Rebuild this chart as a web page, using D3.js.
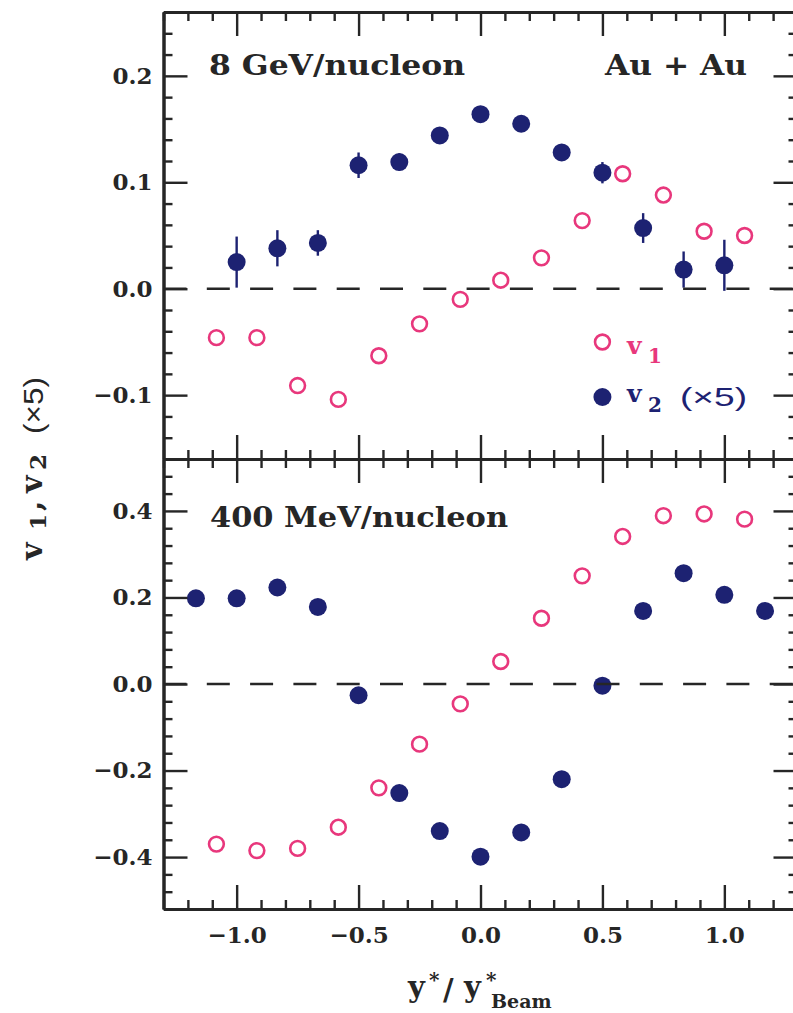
<!DOCTYPE html>
<html>
<head>
<meta charset="utf-8">
<script src="https://cdn.jsdelivr.net/npm/d3@7"></script>
<style>
  html, body { margin: 0; padding: 0; background: #fff; }
  svg { display: block; }
</style>
</head>
<body>
<svg id="chart" width="793" height="1013"></svg>
<script>
// Rapidity bins, y*/y*_beam
const v1Rapidity     = [-1.083, -0.917, -0.75, -0.583, -0.417, -0.25, -0.083, 0.083, 0.25, 0.417, 0.583, 0.75, 0.917, 1.083];
const v2RapidityHigh = [-1.0, -0.833, -0.667, -0.5, -0.333, -0.167, 0.0, 0.167, 0.333, 0.5, 0.667, 0.833, 1.0];
const v2RapidityLow  = [-1.167, -1.0, -0.833, -0.667, -0.5, -0.333, -0.167, 0.0, 0.167, 0.333, 0.5, 0.667, 0.833, 1.0, 1.167];

// 8 GeV/nucleon Au + Au
const v1High    = [-0.046, -0.046, -0.091, -0.104, -0.063, -0.033, -0.010, 0.008, 0.029, 0.064, 0.108, 0.088, 0.054, 0.050];
const v2High    = [0.025, 0.038, 0.043, 0.116, 0.119, 0.144, 0.164, 0.155, 0.128, 0.109, 0.057, 0.018, 0.022];
const v2HighErr = [0.024, 0.017, 0.012, 0.012, 0.008, 0.006, 0.006, 0.006, 0.008, 0.010, 0.014, 0.017, 0.024];

// 400 MeV/nucleon Au + Au
const v1Low = [-0.370, -0.385, -0.380, -0.331, -0.240, -0.139, -0.046, 0.052, 0.152, 0.250, 0.341, 0.389, 0.393, 0.381];
const v2Low = [0.198, 0.198, 0.223, 0.178, -0.026, -0.252, -0.340, -0.399, -0.343, -0.220, -0.004, 0.169, 0.256, 0.206, 0.169];

// Tick values
const xTickValues   = [-1.0, -0.5, 0.0, 0.5, 1.0];
const yTickValuesHi = [-0.1, 0.0, 0.1, 0.2];
const yTickValuesLo = [-0.4, -0.2, 0.0, 0.2, 0.4];

const INK = "#262626";
const PINK = "#e8377c";
const NAVY = "#1d2272";
const SERIF = "'DejaVu Serif', serif";
const SANS = "'Liberation Sans', Arial, sans-serif";

const svg = d3.select("#chart");
svg.append("rect").attr("width", 793).attr("height", 1013).attr("fill", "#fff");

const L = 163.5, R = 797.5;
const x = d3.scaleLinear().domain([-1.3, 1.3]).range([L, R]);
const yHi = d3.scaleLinear().domain([-0.16, 0.26]).range([459, 12]);
const yLo = d3.scaleLinear().domain([-0.52, 0.52]).range([909, 459]);

const xMinor = d3.range(-13, 14).map(i => i / 10).filter(v => !xTickValues.some(m => Math.abs(m - v) < 1e-9));
const fmt = d3.format(".1f");

function styleAxis(g, labelled) {
  g.select(".domain").attr("stroke", INK).attr("stroke-width", 3);
  g.selectAll(".tick line").attr("stroke", INK).attr("stroke-width", 2.4);
  if (labelled) {
    g.selectAll(".tick text")
      .attr("fill", INK)
      .style("font-family", SERIF)
      .style("font-weight", "bold")
      .style("font-size", "23px");
  } else {
    g.selectAll(".tick text").remove();
  }
}

function drawFrame(y, yMajor, minorStep, showXLabels) {
  const [d0, d1] = y.domain();
  const n = Math.round((d1 - d0) / minorStep);
  const yMinor = d3.range(0, n + 1).map(i => +(d0 + i * minorStep).toFixed(4))
    .filter(v => !yMajor.some(m => Math.abs(m - v) < 1e-9));
  const top = y.range()[1], bottom = y.range()[0];
  const g = svg.append("g");

  // left axis
  g.append("g").attr("transform", `translate(${L},0)`)
    .call(d3.axisLeft(y).tickValues(yMinor).tickSize(-9).tickSizeOuter(0).tickFormat(""))
    .call(s => styleAxis(s, false));
  g.append("g").attr("transform", `translate(${L},0)`)
    .call(d3.axisLeft(y).tickValues(yMajor).tickSize(-24).tickSizeOuter(0).tickPadding(11).tickFormat(fmt))
    .call(s => styleAxis(s, true));

  // right axis
  g.append("g").attr("transform", `translate(${R},0)`)
    .call(d3.axisRight(y).tickValues(yMinor).tickSize(-9).tickSizeOuter(0).tickFormat(""))
    .call(s => styleAxis(s, false));
  g.append("g").attr("transform", `translate(${R},0)`)
    .call(d3.axisRight(y).tickValues(yMajor).tickSize(-24).tickSizeOuter(0).tickFormat(""))
    .call(s => styleAxis(s, false));

  // top axis
  g.append("g").attr("transform", `translate(0,${top})`)
    .call(d3.axisTop(x).tickValues(xMinor).tickSize(-9).tickSizeOuter(0).tickFormat(""))
    .call(s => styleAxis(s, false));
  g.append("g").attr("transform", `translate(0,${top})`)
    .call(d3.axisTop(x).tickValues(xTickValues).tickSize(-24).tickSizeOuter(0).tickFormat(""))
    .call(s => styleAxis(s, false));

  // bottom axis
  g.append("g").attr("transform", `translate(0,${bottom})`)
    .call(d3.axisBottom(x).tickValues(xMinor).tickSize(-9).tickSizeOuter(0).tickFormat(""))
    .call(s => styleAxis(s, false));
  g.append("g").attr("transform", `translate(0,${bottom})`)
    .call(d3.axisBottom(x).tickValues(xTickValues).tickSize(-24).tickSizeOuter(0).tickPadding(18).tickFormat(fmt))
    .call(s => styleAxis(s, showXLabels));
}

function drawPoints(y, v1, v2X, v2, v2Err) {
  const g = svg.append("g");
  if (v2Err) {
    g.selectAll("line.err").data(v2X).join("line")
      .attr("class", "err")
      .attr("x1", d => x(d)).attr("x2", d => x(d))
      .attr("y1", (d, i) => y(v2[i] - v2Err[i]))
      .attr("y2", (d, i) => y(v2[i] + v2Err[i]))
      .attr("stroke", NAVY).attr("stroke-width", 2.4);
  }
  g.selectAll("circle.v1").data(v1Rapidity).join("circle")
    .attr("class", "v1")
    .attr("cx", d => x(d)).attr("cy", (d, i) => y(v1[i]))
    .attr("r", 7.4).attr("fill", "none")
    .attr("stroke", PINK).attr("stroke-width", 2.6);
  g.selectAll("circle.v2").data(v2X).join("circle")
    .attr("class", "v2")
    .attr("cx", d => x(d)).attr("cy", (d, i) => y(v2[i]))
    .attr("r", 9).attr("fill", NAVY);
  // zero reference
  svg.append("line")
    .attr("x1", L).attr("x2", R)
    .attr("y1", y(0)).attr("y2", y(0))
    .attr("stroke", INK).attr("stroke-width", 2.4)
    .attr("stroke-dasharray", "23,20.3");
}

drawPoints(yHi, v1High, v2RapidityHigh, v2High, v2HighErr);
drawPoints(yLo, v1Low, v2RapidityLow, v2Low, null);
drawFrame(yHi, yTickValuesHi, 0.02, false);
drawFrame(yLo, yTickValuesLo, 0.04, true);

// Panel labels
function label(txt, px, py, len, size) {
  svg.append("text")
    .attr("x", px).attr("y", py)
    .attr("textLength", len).attr("lengthAdjust", "spacingAndGlyphs")
    .attr("fill", INK)
    .style("font-family", SERIF).style("font-weight", "bold").style("font-size", size + "px")
    .text(txt);
}
label("8 GeV/nucleon", 209, 75, 256, 28);
label("Au + Au", 605, 75, 142, 28);
label("400 MeV/nucleon", 210, 527, 298, 28);

// Legend
svg.append("circle").attr("cx", x(0.5)).attr("cy", 342).attr("r", 7.4)
  .attr("fill", "none").attr("stroke", PINK).attr("stroke-width", 2.6);
svg.append("circle").attr("cx", x(0.5)).attr("cy", 397).attr("r", 9).attr("fill", NAVY);

const leg1 = svg.append("text").attr("fill", PINK)
  .style("font-family", SERIF).style("font-weight", "bold");
leg1.append("tspan").attr("x", 627).attr("y", 354).style("font-size", "25px").text("v");
leg1.append("tspan").attr("x", 648).attr("y", 363).style("font-size", "20px").text("1");

const leg2 = svg.append("text").attr("fill", NAVY)
  .style("font-family", SERIF).style("font-weight", "bold");
leg2.append("tspan").attr("x", 627).attr("y", 402).style("font-size", "25px").text("v");
leg2.append("tspan").attr("x", 648).attr("y", 412).style("font-size", "20px").text("2");
svg.append("text").attr("x", 680).attr("y", 406)
  .attr("textLength", 67).attr("lengthAdjust", "spacingAndGlyphs")
  .attr("fill", NAVY).style("font-family", SANS).style("font-size", "25px")
  .text("(×5)");

// Y axis title (rotated)
const yt = svg.append("g").attr("transform", "translate(42,0) rotate(-90)");
const ytText = yt.append("text").attr("fill", INK)
  .style("font-family", SERIF).style("font-weight", "bold");
ytText.append("tspan").attr("x", -560).attr("y", 0).style("font-size", "30px").text("v");
ytText.append("tspan").attr("x", -530).attr("y", 4).style("font-size", "23px").text("1");
ytText.append("tspan").attr("x", -511).attr("y", 0).style("font-size", "30px").text(",");
ytText.append("tspan").attr("x", -493).attr("y", 0).style("font-size", "30px").text("v");
ytText.append("tspan").attr("x", -470).attr("y", 4).style("font-size", "23px").text("2");
yt.append("text").attr("x", -434).attr("y", 1)
  .attr("textLength", 57).attr("lengthAdjust", "spacingAndGlyphs")
  .attr("fill", INK).style("font-family", SANS).style("font-size", "28px")
  .text("(×5)");

// X axis title
const xt = svg.append("text").attr("fill", INK)
  .style("font-family", SERIF).style("font-weight", "bold");
xt.append("tspan").attr("x", 408).attr("y", 997).style("font-size", "29px").text("y");
xt.append("tspan").attr("x", 429).attr("y", 987).style("font-size", "20px").text("*");
xt.append("tspan").attr("x", 443).attr("y", 1000).style("font-size", "29px").text("/");
xt.append("tspan").attr("x", 464).attr("y", 997).style("font-size", "29px").text("y");
xt.append("tspan").attr("x", 486).attr("y", 987).style("font-size", "20px").text("*");
xt.append("tspan").attr("x", 491).attr("y", 1008).style("font-size", "19px").text("Beam");
</script>
</body>
</html>
